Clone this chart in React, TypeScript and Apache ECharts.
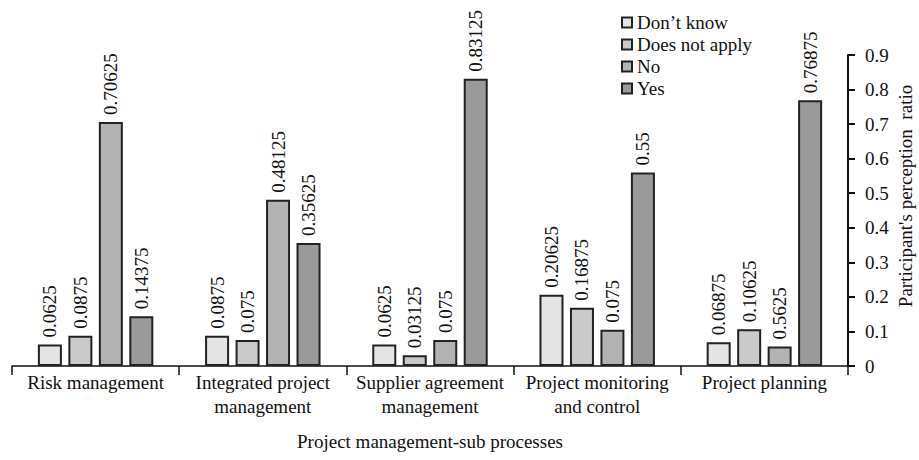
import React, { useEffect, useRef } from "react";
import * as echarts from "echarts";

const categories = [
  "Risk management",
  "Integrated project\nmanagement",
  "Supplier agreement\nmanagement",
  "Project monitoring\nand control",
  "Project planning",
];
const seriesNames = ["Don’t know", "Does not apply", "No", "Yes"];
// bar heights
const dontKnow = [0.0625, 0.0875, 0.0625, 0.20625, 0.06875];
const doesNotApply = [0.0875, 0.075, 0.03125, 0.16875, 0.10625];
const no = [0.70625, 0.48125, 0.075, 0.105, 0.05625];
const yes = [0.14375, 0.35625, 0.83125, 0.56, 0.76875];
// printed value labels
const dontKnowLabels = ["0.0625", "0.0875", "0.0625", "0.20625", "0.06875"];
const doesNotApplyLabels = ["0.0875", "0.075", "0.03125", "0.16875", "0.10625"];
const noLabels = ["0.70625", "0.48125", "0.075", "0.075", "0.5625"];
const yesLabels = ["0.14375", "0.35625", "0.83125", "0.55", "0.76875"];
const yTicks = [0, 0.1, 0.2, 0.3, 0.4, 0.5, 0.6, 0.7, 0.8, 0.9];
const yAxisTitle = "Participant's perception  ratio";
const xAxisTitle = "Project management-sub processes";

const colors = ["#e4e4e4", "#cacaca", "#b2b2b2", "#9a9a9a"];
const FONT = '"Liberation Serif", "Times New Roman", serif';
const FS = 19;

export default function App() {
  const ref = useRef<HTMLDivElement>(null);
  useEffect(() => {
    if (!ref.current) return;
    const chart = echarts.init(ref.current, null, { renderer: "svg" });
    const vals = [dontKnow, doesNotApply, no, yes];
    const labs = [dontKnowLabels, doesNotApplyLabels, noLabels, yesLabels];
    chart.setOption({
      animation: false,
      textStyle: { fontFamily: FONT, color: "#111" },
      grid: { left: 12, right: 71, top: 55, bottom: 94, containLabel: false },
      legend: {
        orient: "vertical",
        left: 616,
        top: 8,
        itemWidth: 10,
        itemHeight: 10,
        itemGap: 3,
        icon: "rect",
        textStyle: { fontFamily: FONT, fontSize: FS, color: "#111" },
        data: seriesNames,
      },
      graphic: [
        {
          type: "text",
          x: 905,
          y: 196,
          rotation: Math.PI / 2,
          style: {
            text: yAxisTitle,
            fontFamily: FONT,
            fontSize: FS,
            fill: "#111",
            align: "center",
            verticalAlign: "middle",
          },
        },
      ],
      xAxis: {
        type: "category",
        data: categories,
        name: xAxisTitle,
        nameLocation: "middle",
        nameGap: 66,
        nameTextStyle: { fontFamily: FONT, fontSize: FS, color: "#111" },
        axisLine: { lineStyle: { color: "#111", width: 1.5 } },
        axisTick: { show: true, length: 9, lineStyle: { color: "#111", width: 1.5 } },
        axisLabel: { fontFamily: FONT, fontSize: FS, color: "#111", margin: 4, lineHeight: 24, interval: 0 },
      },
      yAxis: {
        type: "value",
        position: "right",
        min: 0,
        max: 0.9,
        interval: 0.1,
        splitLine: { show: false },
        axisLine: { show: true, lineStyle: { color: "#111", width: 2 } },
        axisTick: { show: true, length: 7, lineStyle: { color: "#111", width: 2 } },
        axisLabel: {
          fontFamily: FONT,
          fontSize: FS,
          color: "#111",
          margin: 17,
          formatter: (v: number) => {
            const t = yTicks.find((x) => Math.abs(x - v) < 1e-6);
            return t === undefined ? "" : String(t);
          },
        },
      },
      series: seriesNames.map((name, i) => ({
        name,
        type: "bar",
        barWidth: 24,
        barGap: "27%",
        data: vals[i],
        itemStyle: { color: colors[i], borderColor: "#222", borderWidth: 2 },
        label: {
          show: true,
          position: "top",
          rotate: 90,
          align: "left",
          verticalAlign: "middle",
          distance: 7,
          fontFamily: FONT,
          fontSize: FS,
          color: "#111",
          formatter: (p: any) => labs[i][p.dataIndex],
        },
      })),
    });
    return () => chart.dispose();
  }, []);
  return (
    <div
      ref={ref}
      style={{ position: "absolute", left: 0, top: 0, width: 919, height: 460 }}
    />
  );
}
